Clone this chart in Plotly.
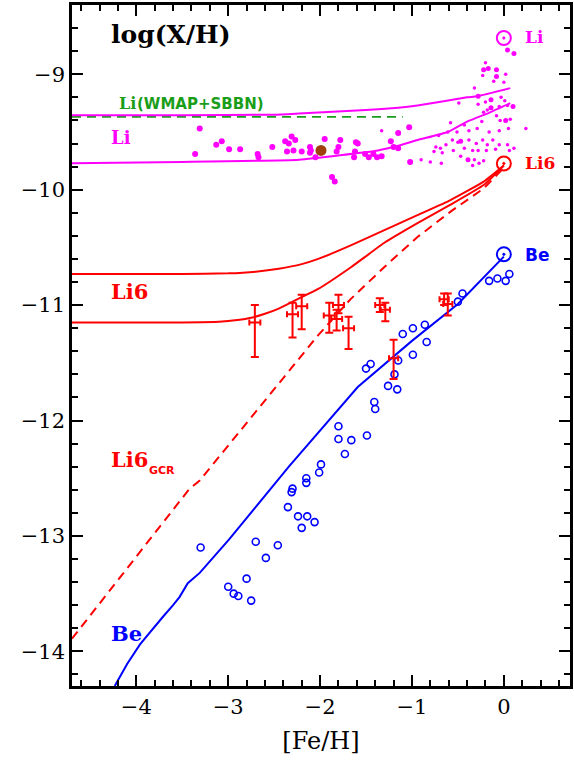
import plotly.graph_objects as go

# ---------------- data ----------------
# Li model curves
li_up_x = [-4.70, -3.5, -2.5, -2.23, -1.5, -1.15, -0.94, -0.40, -0.29, 0.07]
li_up_y = [-9.355, -9.355, -9.35, -9.34, -9.31, -9.29, -9.27, -9.20, -9.19, -9.12]
li_lo_x = [-4.70, -3.5, -2.23, -1.37, -1.15, -0.94, -0.61, -0.40, -0.15, 0.07]
li_lo_y = [-9.77, -9.76, -9.74, -9.66, -9.62, -9.57, -9.50, -9.41, -9.33, -9.25]

# WMAP+SBBN level
wmap_x = [-4.70, -1.10]
wmap_y = [-9.37, -9.37]

# Li6 model curves
li6_up_x = [-4.70, -3.5, -3.0, -2.7, -2.45, -2.2, -2.02, -1.66, -1.30, -0.94, -0.58, -0.22, 0.0]
li6_up_y = [-10.73, -10.73, -10.725, -10.71, -10.685, -10.645, -10.60, -10.48, -10.35, -10.22, -10.09, -9.93, -9.79]
li6_lo_x = [-4.70, -3.5, -3.1, -2.9, -2.75, -2.6, -2.45, -2.25, -2.02, -1.66, -1.30, -0.94, -0.58, -0.22, 0.0]
li6_lo_y = [-11.15, -11.15, -11.145, -11.13, -11.11, -11.075, -11.03, -10.95, -10.86, -10.67, -10.46, -10.29, -10.13, -9.96, -9.79]

# Li6 from GCR (dashed)
gcr_x = [-4.70, -3.42, -3.31, -2.56, -2.02, -1.67, -1.30, -0.94, -0.58, -0.22, 0.0]
gcr_y = [-13.89, -12.59, -12.52, -11.79, -11.26, -10.95, -10.67, -10.41, -10.19, -9.99, -9.81]

# Be model curve
be_x = [-4.235, -4.10, -3.96, -3.83, -3.71, -3.60, -3.53, -3.44, -3.31, -2.99, -2.34, -1.59, -1.0, -0.50, 0.0]
be_y = [-14.30, -14.11, -13.94, -13.81, -13.70, -13.60, -13.53, -13.41, -13.32, -13.03, -12.40, -11.71, -11.31, -10.99, -10.58]

# Li observations (halo stars, large dots)
li_obs_big_x = [-3.36, -3.31, -3.13, -3.07, -2.99, -2.87, -2.68, -2.67, -2.52, -2.38, -2.31,
                -2.36, -2.29, -2.27, -2.34, -2.20, -2.11, -2.10, -2.05, -2.11, -1.95, -1.80,
                -1.78, -1.82, -1.87, -1.84, -1.62, -1.61, -1.59, -1.63, -1.51, -1.47, -1.42,
                -1.38, -1.33, -1.23, -1.20, -1.15, -1.15, -1.03, -1.02]
li_obs_big_y = [-9.69, -9.47, -9.61, -9.58, -9.65, -9.65, -9.69, -9.72, -9.63, -9.58, -9.54,
                -9.67, -9.66, -9.57, -9.60, -9.67, -9.63, -9.66, -9.72, -9.68, -9.56, -9.63,
                -9.57, -9.67, -9.89, -9.93, -9.67, -9.59, -9.60, -9.72, -9.69, -9.72, -9.69,
                -9.72, -9.71, -9.58, -9.63, -9.51, -9.64, -9.46, -9.76]

# Li observations (disk stars, medium dots)
li_obs_mid_x = [0.11, 0.04, -0.17, -0.08, -0.22, -0.08, -0.28, -0.14, -0.14, 0.10, 0.02, -0.47, -0.39]
li_obs_mid_y = [-8.82, -8.79, -8.95, -8.96, -8.96, -9.02, -9.19, -9.22, -9.29, -9.28, -9.40, -9.58, -9.74]

# Li observations (disk stars, small dots)
li_obs_small_x = [-0.20, -0.23, 0.02, 0.00, -0.11, -0.32, -0.49, -0.28, -0.20, -0.03, 0.01,
                  -0.22, -0.18, -0.05, 0.04, -0.58, -0.43, -0.24, -0.08, -0.04, 0.07, 0.24,
                  -0.71, -0.61, -0.51, -0.38, -0.29, -0.16, -0.05, 0.05, -0.74, -0.69, -0.63,
                  -0.56, -0.50, -0.38, -0.30, -0.23, -0.18, -0.12, -0.05, 0.04, 0.11, -0.67,
                  -0.55, -0.43, -0.34, -0.28, -0.19, -0.09, 0.06, -0.80, -0.68, -0.47, -0.32,
                  -0.27, -0.22, -0.34, -1.33, -0.76, -0.90]
li_obs_small_y = [-8.90, -9.01, -9.00, -9.07, -9.06, -9.12, -9.25, -9.26, -9.24, -9.20, -9.23,
                  -9.33, -9.31, -9.28, -9.27, -9.42, -9.44, -9.41, -9.36, -9.40, -9.39, -9.47,
                  -9.53, -9.50, -9.50, -9.49, -9.47, -9.50, -9.49, -9.47, -9.63, -9.64, -9.61,
                  -9.57, -9.59, -9.57, -9.60, -9.57, -9.61, -9.57, -9.61, -9.61, -9.64, -9.68,
                  -9.66, -9.64, -9.66, -9.66, -9.66, -9.65, -9.66, -9.76, -9.77, -9.71, -9.74,
                  -9.77, -9.75, -9.79, -9.49, -9.67, -9.74]

# special star (brown)
special_x = [-1.99]
special_y = [-9.66]

# Li6 observations with error bars
li6_obs_x = [-2.71, -2.30, -2.20, -1.90, -1.80, -1.82, -1.69, -1.35, -1.29, -0.65, -0.61, -1.20]
li6_obs_y = [-11.15, -11.08, -11.01, -11.09, -11.00, -11.12, -11.20, -11.00, -11.04, -10.95, -10.99, -11.46]
li6_err_up = [0.15, 0.10, 0.10, 0.11, 0.09, 0.08, 0.10, 0.06, 0.06, 0.05, 0.09, 0.16]
li6_err_dn = [0.30, 0.20, 0.20, 0.15, 0.07, 0.10, 0.18, 0.06, 0.10, 0.05, 0.10, 0.18]
li6_err_x = [0.06, 0.06, 0.06, 0.06, 0.06, 0.06, 0.06, 0.05, 0.05, 0.05, 0.05, 0.05]

# Be observations
be_obs_x = [-3.30, -3.00, -2.94, -2.89, -2.80, -2.75, -2.70, -2.59, -2.46, -2.35, -2.31, -2.30,
            -2.24, -2.20, -2.15, -2.15, -2.14, -2.06, -2.01, -1.99, -1.80, -1.80, -1.73, -1.66,
            -1.49, -1.41, -1.40, -1.26, -1.16, -1.50, -1.45, -1.15, -0.99, -1.10, -0.99, -0.86,
            -0.84, -1.19, -0.50, -0.45, -0.16, -0.07, 0.02, 0.06]
be_obs_y = [-13.10, -13.44, -13.50, -13.52, -13.37, -13.56, -13.05, -13.19, -13.08, -12.75, -12.62, -12.59,
            -12.83, -12.93, -12.50, -12.54, -12.83, -12.88, -12.45, -12.38, -12.05, -12.16, -12.29, -12.17,
            -12.13, -11.84, -11.90, -11.70, -11.73, -11.55, -11.51, -11.48, -11.43, -11.25, -11.20, -11.17,
            -11.32, -11.60, -10.97, -10.90, -10.79, -10.77, -10.79, -10.73]

# solar values
sun_x = [0.0, 0.0, 0.0]
sun_y = [-8.686, -9.773, -10.56]

MAG = "#ff00ff"
RED = "#ff0000"
BLUE = "#0000ff"
GREEN = "#1a9e1a"
BROWN = "#a0420f"

fig = go.Figure()

def line(x, y, color, dash=None, width=2, shape="linear"):
    fig.add_trace(go.Scatter(x=x, y=y, mode="lines",
                             line=dict(color=color, width=width, dash=dash, shape=shape, smoothing=0.4),
                             showlegend=False, hoverinfo="skip"))

line(wmap_x, wmap_y, GREEN, dash="9px,6px", width=1.8)
line(li_up_x, li_up_y, MAG, shape="spline")
line(li_lo_x, li_lo_y, MAG, shape="spline")
line(li6_up_x, li6_up_y, RED, shape="spline")
line(li6_lo_x, li6_lo_y, RED, shape="spline")
line(gcr_x, gcr_y, RED, dash="9px,6px")
line(be_x, be_y, BLUE)

fig.add_trace(go.Scatter(x=li_obs_small_x, y=li_obs_small_y, mode="markers",
                         marker=dict(color=MAG, size=3.5), showlegend=False))
fig.add_trace(go.Scatter(x=li_obs_mid_x, y=li_obs_mid_y, mode="markers",
                         marker=dict(color=MAG, size=5), showlegend=False))
fig.add_trace(go.Scatter(x=li_obs_big_x, y=li_obs_big_y, mode="markers",
                         marker=dict(color=MAG, size=6), showlegend=False))
fig.add_trace(go.Scatter(x=special_x, y=special_y, mode="markers",
                         marker=dict(color=BROWN, size=11), showlegend=False))

fig.add_trace(go.Scatter(x=be_obs_x, y=be_obs_y, mode="markers",
                         marker=dict(symbol="circle-open", color=BLUE, size=7, line=dict(width=1.6, color=BLUE)),
                         showlegend=False))

fig.add_trace(go.Scatter(x=li6_obs_x, y=li6_obs_y, mode="markers",
                         marker=dict(color=RED, size=2),
                         error_y=dict(type="data", symmetric=False, array=li6_err_up, arrayminus=li6_err_dn,
                                      color=RED, thickness=2, width=4),
                         error_x=dict(type="data", array=li6_err_x, color=RED, thickness=2, width=3),
                         showlegend=False))

fig.add_trace(go.Scatter(x=sun_x, y=sun_y, mode="markers",
                         marker=dict(symbol="circle-open-dot", color=[MAG, RED, BLUE], size=14,
                                     line=dict(width=2, color=[MAG, RED, BLUE])),
                         showlegend=False))

SERIF = "DejaVu Serif"
def ann(x, y, text, color, size=20, family=SERIF):
    fig.add_annotation(x=x, y=y, text=text, showarrow=False, xanchor="left", yanchor="middle",
                       font=dict(family=family, size=size, color=color))

ann(-4.30, -8.654, "<b>log(X/H)</b>", "black", size=25)
ann(-4.21, -9.255, "<b>Li</b>", GREEN, size=16)
ann(-4.01, -9.255, "<b>(WMAP+SBBN)</b>", GREEN, size=15, family="DejaVu Sans")
ann(-4.30, -9.55, "<b>Li</b>", MAG, size=18)
ann(-4.30, -10.883, "<b>Li6</b>", RED, size=21)
ann(-4.30, -12.34, "<b>Li6</b>", RED, size=21)
ann(-3.88, -12.43, "<b>GCR</b>", RED, size=11, family="DejaVu Sans")
ann(-4.30, -13.844, "<b>Be</b>", BLUE, size=21)
ann(0.21, -8.68, "<b>Li</b>", MAG, size=17)
ann(0.21, -9.77, "<b>Li6</b>", RED, size=17)
ann(0.21, -10.57, "<b>Be</b>", BLUE, size=17, family="DejaVu Sans")

axis_common = dict(showgrid=False, zeroline=False, showline=True, linecolor="black", linewidth=2.5,
                   mirror="allticks", ticks="inside", ticklen=11, tickwidth=2, tickcolor="black",
                   tickfont=dict(family=SERIF, size=21, color="black"),
                   tickmode="linear", tick0=0, dtick=1,
                   minor=dict(ticks="inside", ticklen=6, tickwidth=1.5, tickcolor="black", dtick=0.2, tick0=0))

fig.update_layout(
    width=574, height=760,
    margin=dict(l=72, r=1, t=5, b=74),
    plot_bgcolor="white", paper_bgcolor="white",
    xaxis=dict(range=[-4.70, 0.72],
               title=dict(text="[Fe/H]", font=dict(family=SERIF, size=24, color="black"), standoff=15),
               **axis_common),
    yaxis=dict(range=[-14.30, -8.40], **axis_common),
)

fig.write_html("out.html")
